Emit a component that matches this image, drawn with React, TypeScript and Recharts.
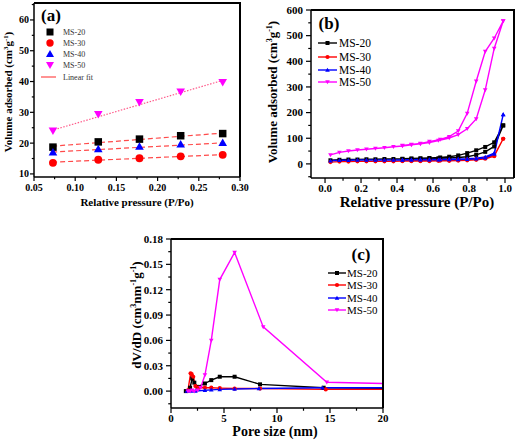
import React from "react";
import { ComposedChart, LineChart, Line, Scatter, XAxis, YAxis } from "recharts";

const FONT = '"Liberation Serif", "Times New Roman", serif';

// (a) BET range, P/Po and adsorbed volume
const P_BET = [0.073, 0.128, 0.178, 0.228, 0.279];
const BET_MS20 = [18.7, 20.4, 21.3, 22.4, 23.1];
const BET_MS30 = [13.6, 14.6, 15.1, 15.7, 16.2];
const BET_MS40 = [17.0, 18.1, 18.9, 19.6, 20.1];
const BET_MS50 = [24.0, 29.4, 33.3, 36.7, 39.8];
const FIT_P = [0.072, 0.281];
const FIT_MS20 = [19.0, 23.3];
const FIT_MS30 = [13.8, 16.3];
const FIT_MS40 = [17.1, 20.1];
const FIT_P50 = [0.075, 0.278];
const FIT_MS50 = [24.4, 40.3];

// (b) isotherms: adsorption then desorption branch
const P_ADS = [0.03, 0.08, 0.13, 0.18, 0.23, 0.28, 0.33, 0.38, 0.43, 0.48, 0.53, 0.58, 0.63, 0.69, 0.74, 0.79, 0.84, 0.89, 0.94, 0.99];
const P_DES = [0.99, 0.94, 0.89, 0.84, 0.79, 0.74, 0.69, 0.64, 0.58, 0.53, 0.48, 0.43];
const ADS_MS20 = [14, 16, 17, 17, 18, 18, 19, 19, 19, 20, 20, 21, 22, 23, 25, 28, 35, 47, 68, 150];
const DES_MS20 = [150, 84, 66, 53, 42, 33, 28, 25, 23, 22, 21, 20];
const ADS_MS30 = [7, 9, 9, 10, 10, 10, 10, 10, 11, 11, 11, 11, 12, 12, 13, 14, 16, 20, 30, 98];
const DES_MS30 = [98, 32, 23, 19, 17, 15, 14, 13, 13, 12, 12, 12];
const ADS_MS40 = [12, 14, 14, 15, 15, 15, 15, 15, 15, 16, 16, 16, 16, 17, 17, 18, 20, 24, 38, 192];
const DES_MS40 = [192, 42, 27, 22, 20, 19, 18, 17, 17, 17, 16, 16];
const ADS_MS50 = [35, 45, 50, 54, 57, 60, 63, 67, 70, 74, 78, 83, 91, 101, 114, 137, 175, 288, 450, 557];
const DES_MS50 = [557, 490, 438, 322, 197, 128, 106, 95, 87, 80, 76, 72];

// (c) pore size distribution
const D_MS20 = [1.4, 1.8, 2.0, 2.2, 2.5, 3.2, 3.8, 4.6, 6.0, 8.4, 14.4, 24.6];
const V_MS20 = [0.0, 0.004, 0.015, 0.01, 0.005, 0.009, 0.013, 0.017, 0.017, 0.008, 0.004, 0.003];
const D_MS30 = [1.6, 1.85, 1.95, 2.1, 2.3, 2.6, 3.2, 3.8, 4.6, 6.0, 8.4, 14.6, 24.6];
const V_MS30 = [0.001, 0.021, 0.02, 0.017, 0.006, 0.004, 0.004, 0.004, 0.0035, 0.003, 0.003, 0.002, 0.002];
const D_MS40 = [1.5, 1.9, 2.3, 3.2, 3.8, 4.6, 6.0, 8.3, 14.3, 24.6];
const V_MS40 = [0.0, 0.0, 0.0, 0.001, 0.0015, 0.002, 0.0025, 0.003, 0.004, 0.004];
const D_MS50 = [1.6, 1.8, 2.0, 2.2, 2.5, 2.8, 3.2, 3.8, 4.6, 6.0, 8.7, 14.7, 24.6];
const V_MS50 = [0.0, 0.0, 0.001, 0.0, 0.001, 0.004, 0.019, 0.06, 0.132, 0.164, 0.076, 0.0105, 0.0078];

// ticks (major, then all incl. minor)
const A_X_MAJOR = [0.05, 0.1, 0.15, 0.2, 0.25, 0.3];
const A_X_TICKS = [0.05, 0.075, 0.1, 0.125, 0.15, 0.175, 0.2, 0.225, 0.25, 0.275, 0.3];
const A_Y_MAJOR = [10, 20, 30, 40, 50, 60];
const A_Y_TICKS = [10, 15, 20, 25, 30, 35, 40, 45, 50, 55, 60, 65];
const B_X_MAJOR = [0, 0.2, 0.4, 0.6, 0.8, 1.0];
const B_X_TICKS = [0, 0.1, 0.2, 0.3, 0.4, 0.5, 0.6, 0.7, 0.8, 0.9, 1.0];
const B_Y_MAJOR = [0, 100, 200, 300, 400, 500, 600];
const B_Y_TICKS = [-50, 0, 50, 100, 150, 200, 250, 300, 350, 400, 450, 500, 550, 600];
const C_X_MAJOR = [0, 5, 10, 15, 20];
const C_X_TICKS = [0, 2.5, 5, 7.5, 10, 12.5, 15, 17.5, 20];
const C_Y_MAJOR = [0, 0.03, 0.06, 0.09, 0.12, 0.15, 0.18];
const C_Y_TICKS = [-0.015, 0, 0.015, 0.03, 0.045, 0.06, 0.075, 0.09, 0.105, 0.12, 0.135, 0.15, 0.165, 0.18];

const BLACK = "#000000";
const RED = "#ff0000";
const BLUE = "#0000ff";
const MAGENTA = "#ff00ff";
const FIT = "#ff4a4a";
const AXIS_W = 1.5;

type Kind = "square" | "circle" | "up" | "down";

const toPts = (xs: number[], ys: number[]) => xs.map((x, i) => ({ x, y: ys[i] }));

function Marker({ cx, cy, kind, size, color }: { cx: number; cy: number; kind: Kind; size: number; color: string }) {
  const r = size / 2;
  if (kind === "square") return <rect x={cx - r} y={cy - r} width={size} height={size} fill={color} />;
  if (kind === "circle") return <circle cx={cx} cy={cy} r={r * 1.05} fill={color} />;
  const k = r * 1.15;
  if (kind === "up") return <polygon points={`${cx},${cy - k} ${cx + k},${cy + k * 0.75} ${cx - k},${cy + k * 0.75}`} fill={color} />;
  return <polygon points={`${cx},${cy + k} ${cx + k},${cy - k * 0.75} ${cx - k},${cy - k * 0.75}`} fill={color} />;
}

const isMajor = (majors: number[], v: number) => majors.some((m) => Math.abs(m - v) < 1e-9);

function xTick(majors: number[], fmt: (v: number) => string, fs: number, len: number, off: number) {
  return (p: any) => {
    const v = p.payload.value as number;
    const major = isMajor(majors, v);
    return (
      <g>
        <line x1={p.x} x2={p.x} y1={p.y} y2={p.y + (major ? len : len * 0.55)} stroke="#000" strokeWidth={1.2} />
        {major && (
          <text x={p.x} y={p.y + off} dy="0.35em" textAnchor="middle" fontSize={fs} fontWeight={700} fontFamily={FONT} fill="#000">
            {fmt(v)}
          </text>
        )}
      </g>
    );
  };
}

function yTick(majors: number[], fmt: (v: number) => string, fs: number, len: number, off: number) {
  return (p: any) => {
    const v = p.payload.value as number;
    const major = isMajor(majors, v);
    return (
      <g>
        <line x1={p.x} x2={p.x - (major ? len : len * 0.55)} y1={p.y} y2={p.y} stroke="#000" strokeWidth={1.2} />
        {major && (
          <text x={p.x - off} y={p.y} dy="0.35em" textAnchor="end" fontSize={fs} fontWeight={700} fontFamily={FONT} fill="#000">
            {fmt(v)}
          </text>
        )}
      </g>
    );
  };
}

const dotOf = (kind: Kind, size: number, color: string) => (p: any) =>
  <Marker key={`d${p.index}`} cx={p.cx} cy={p.cy} kind={kind} size={size} color={color} />;

const AXIS_LINE = { stroke: "#000", strokeWidth: AXIS_W };

function PanelA() {
  const xd: [number, number] = [0.05, 0.3];
  const yd: [number, number] = [9, 65.5];
  const fits = [
    { key: "f20", data: toPts(FIT_P, FIT_MS20), dash: "5 3", color: FIT },
    { key: "f30", data: toPts(FIT_P, FIT_MS30), dash: "5 3", color: FIT },
    { key: "f40", data: toPts(FIT_P, FIT_MS40), dash: "5 3", color: FIT },
    { key: "f50", data: toPts(FIT_P50, FIT_MS50), dash: "1.5 1.5", color: "#ff5a8a" },
  ];
  const pts = [
    { key: "s20", data: toPts(P_BET, BET_MS20), kind: "square" as Kind, color: BLACK },
    { key: "s30", data: toPts(P_BET, BET_MS30), kind: "circle" as Kind, color: RED },
    { key: "s40", data: toPts(P_BET, BET_MS40), kind: "up" as Kind, color: BLUE },
    { key: "s50", data: toPts(P_BET, BET_MS50), kind: "down" as Kind, color: MAGENTA },
  ];
  return (
    <ComposedChart width={262} height={221} margin={{ top: 3, right: 22, bottom: 0, left: 0 }}>
      <XAxis dataKey="x" type="number" domain={xd} ticks={A_X_TICKS} interval={0} allowDataOverflow height={44}
        tickSize={0} tickMargin={0} tickLine={false} axisLine={AXIS_LINE}
        tick={xTick(A_X_MAJOR, (v) => v.toFixed(2), 10, 4, 10)} />
      <YAxis dataKey="y" type="number" domain={yd} ticks={A_Y_TICKS} interval={0} allowDataOverflow width={34}
        tickSize={0} tickMargin={0} tickLine={false} axisLine={AXIS_LINE}
        tick={yTick(A_Y_MAJOR, (v) => String(v), 10, 4, 5)} />
      {fits.map((f) => (
        <Line key={f.key} data={f.data} dataKey="y" stroke={f.color} strokeWidth={1.2} strokeDasharray={f.dash} dot={false} isAnimationActive={false} />
      ))}
      {pts.map((s) => (
        <Scatter key={s.key} data={s.data} dataKey="y" isAnimationActive={false}
          shape={(p: any) => <Marker cx={p.cx} cy={p.cy} kind={s.kind} size={7.5} color={s.color} />} />
      ))}
    </ComposedChart>
  );
}

function PanelB() {
  const xd: [number, number] = [-0.078, 1.05];
  const yd: [number, number] = [-55, 600];
  const series = [
    { key: "b20", data: [...toPts(P_ADS, ADS_MS20), ...toPts(P_DES, DES_MS20)], kind: "square" as Kind, color: BLACK },
    { key: "b30", data: [...toPts(P_ADS, ADS_MS30), ...toPts(P_DES, DES_MS30)], kind: "circle" as Kind, color: RED },
    { key: "b40", data: [...toPts(P_ADS, ADS_MS40), ...toPts(P_DES, DES_MS40)], kind: "up" as Kind, color: BLUE },
    { key: "b50", data: [...toPts(P_ADS, ADS_MS50), ...toPts(P_DES, DES_MS50)], kind: "down" as Kind, color: MAGENTA },
  ];
  return (
    <LineChart width={262} height={221} margin={{ top: 10, right: 10, bottom: 0, left: 0 }}>
      <XAxis dataKey="x" type="number" domain={xd} ticks={B_X_TICKS} interval={0} allowDataOverflow height={43}
        tickSize={0} tickMargin={0} tickLine={false} axisLine={AXIS_LINE}
        tick={xTick(B_X_MAJOR, (v) => v.toFixed(1), 11, 5, 10)} />
      <YAxis dataKey="y" type="number" domain={yd} ticks={B_Y_TICKS} interval={0} allowDataOverflow width={49}
        tickSize={0} tickMargin={0} tickLine={false} axisLine={AXIS_LINE}
        tick={yTick(B_Y_MAJOR, (v) => String(v), 11, 5, 8)} />
      {series.map((s) => (
        <Line key={s.key} data={s.data} dataKey="y" stroke={s.color} strokeWidth={1.4} isAnimationActive={false}
          dot={dotOf(s.kind, 4, s.color)} activeDot={false} />
      ))}
    </LineChart>
  );
}

function PanelC() {
  const xd: [number, number] = [0, 20];
  const yd: [number, number] = [-0.02, 0.18];
  const series = [
    { key: "c20", data: toPts(D_MS20, V_MS20), kind: "square" as Kind, color: BLACK },
    { key: "c30", data: toPts(D_MS30, V_MS30), kind: "circle" as Kind, color: RED },
    { key: "c40", data: toPts(D_MS40, V_MS40), kind: "up" as Kind, color: BLUE },
    { key: "c50", data: toPts(D_MS50, V_MS50), kind: "down" as Kind, color: MAGENTA },
  ];
  return (
    <LineChart width={330} height={221} margin={{ top: 18, right: 47, bottom: 0, left: 0 }}>
      <XAxis dataKey="x" type="number" domain={xd} ticks={C_X_TICKS} interval={0} allowDataOverflow height={34}
        tickSize={0} tickMargin={0} tickLine={false} axisLine={AXIS_LINE}
        tick={xTick(C_X_MAJOR, (v) => String(v), 11, 5, 10)} />
      <YAxis dataKey="y" type="number" domain={yd} ticks={C_Y_TICKS} interval={0} allowDataOverflow width={71}
        tickSize={0} tickMargin={0} tickLine={false} axisLine={AXIS_LINE}
        tick={yTick(C_Y_MAJOR, (v) => v.toFixed(2), 11, 5, 8)} />
      {series.map((s) => (
        <Line key={s.key} data={s.data} dataKey="y" stroke={s.color} strokeWidth={1.4} isAnimationActive={false}
          dot={dotOf(s.kind, 4, s.color)} activeDot={false} />
      ))}
    </LineChart>
  );
}

function Title({ x, y, size, rotate, children }: { x: number; y: number; size: number; rotate?: boolean; children: React.ReactNode }) {
  return (
    <div style={{
      position: "absolute", left: x, top: y, transform: `translate(-50%, -50%)${rotate ? " rotate(-90deg)" : ""}`,
      fontSize: size, fontWeight: 700, whiteSpace: "nowrap", lineHeight: 1, fontFamily: FONT, color: "#000",
    }}>
      {children}
    </div>
  );
}

const Sup = ({ children }: { children: React.ReactNode }) => (
  <sup style={{ fontSize: "0.62em", lineHeight: 0, verticalAlign: "0.55em" }}>{children}</sup>
);

const NAMES = ["MS-20", "MS-30", "MS-40", "MS-50"];
const KINDS: Kind[] = ["square", "circle", "up", "down"];
const COLS = [BLACK, RED, BLUE, MAGENTA];

// plot-area boxes: top and right frame edges
const FRAMES = [
  { x: 34, y: 3, w: 206, h: 174 },
  { x: 311, y: 10, w: 203, h: 168 },
  { x: 171, y: 239, w: 212, h: 169 },
];

function Overlay() {
  const aRows = [32, 43, 54, 65];
  const bRows = [43, 57, 70, 82];
  const cRows = [273, 285, 298, 310];
  return (
    <svg width={524} height={442} style={{ position: "absolute", left: 0, top: 0, pointerEvents: "none" }}>
      {FRAMES.map((f, i) => (
        <path key={`fr${i}`} d={`M${f.x},${f.y} H${f.x + f.w} V${f.y + f.h}`} fill="none" stroke="#000" strokeWidth={2} />
      ))}
      {NAMES.map((n, i) => (
        <g key={`a${n}`}>
          <Marker cx={50} cy={aRows[i]} kind={KINDS[i]} size={7} color={COLS[i]} />
          <text x={63} y={aRows[i]} dy="0.35em" fontSize={8} fontFamily={FONT} fill="#333">{n}</text>
        </g>
      ))}
      <line x1={41} x2={56} y1={77} y2={77} stroke={FIT} strokeWidth={1.2} />
      <text x={63} y={77} dy="0.35em" fontSize={8} fontFamily={FONT} fill="#333">Linear fit</text>
      {NAMES.map((n, i) => (
        <g key={`b${n}`}>
          <line x1={318} x2={337} y1={bRows[i]} y2={bRows[i]} stroke={COLS[i]} strokeWidth={1.4} />
          <Marker cx={327.5} cy={bRows[i]} kind={KINDS[i]} size={4} color={COLS[i]} />
          <text x={339} y={bRows[i]} dy="0.35em" fontSize={11.5} fontFamily={FONT} fill="#000">{n}</text>
        </g>
      ))}
      {NAMES.map((n, i) => (
        <g key={`c${n}`}>
          <line x1={328} x2={346} y1={cRows[i]} y2={cRows[i]} stroke={COLS[i]} strokeWidth={1.4} />
          <Marker cx={337} cy={cRows[i]} kind={KINDS[i]} size={4} color={COLS[i]} />
          <text x={347} y={cRows[i]} dy="0.35em" fontSize={11} fontFamily={FONT} fill="#000">{n}</text>
        </g>
      ))}
      <text x={51} y={15} dy="0.35em" textAnchor="middle" fontSize={17} fontWeight={700} fontFamily={FONT}>(a)</text>
      <text x={329} y={23} dy="0.35em" textAnchor="middle" fontSize={17} fontWeight={700} fontFamily={FONT}>(b)</text>
      <text x={361} y={254} dy="0.35em" textAnchor="middle" fontSize={17} fontWeight={700} fontFamily={FONT}>(c)</text>
    </svg>
  );
}

export default function App() {
  return (
    <div style={{ position: "absolute", left: 0, top: 0, width: 524, height: 442, background: "#fff", fontFamily: FONT }}>
      <div style={{ position: "absolute", left: 0, top: 0 }}><PanelA /></div>
      <div style={{ position: "absolute", left: 262, top: 0 }}><PanelB /></div>
      <div style={{ position: "absolute", left: 100, top: 221 }}><PanelC /></div>
      <Overlay />
      <Title x={137} y={202} size={11}>Relative pressure (P/Po)</Title>
      <Title x={8} y={92} size={11} rotate>Volume adsorbed (cm<Sup>3</Sup>g<Sup>-1</Sup>)</Title>
      <Title x={417} y={202} size={15}>Relative pressure (P/Po)</Title>
      <Title x={272} y={92} size={13} rotate>Volume adsorbed (cm<Sup>3</Sup>g<Sup>-1</Sup>)</Title>
      <Title x={275} y={432} size={14}>Pore size (nm)</Title>
      <Title x={136} y={315} size={13} rotate>dV/dD (cm<Sup>3</Sup>nm<Sup>-1</Sup>g<Sup>-1</Sup>)</Title>
    </div>
  );
}
